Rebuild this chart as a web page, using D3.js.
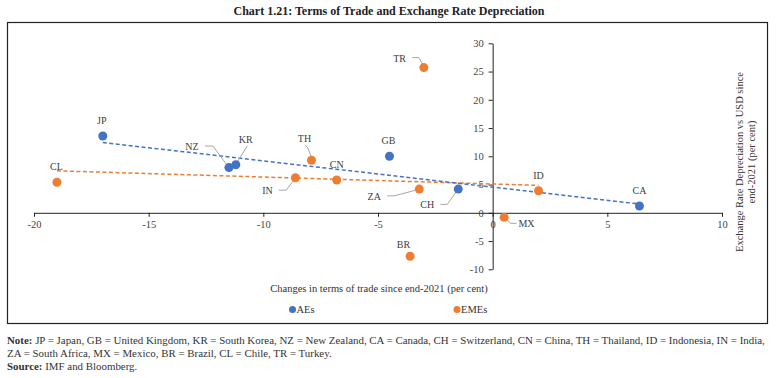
<!DOCTYPE html>
<html>
<head>
<meta charset="utf-8">
<script src="https://cdn.jsdelivr.net/npm/d3@7"></script>
<style>
  body { margin: 0; background: #fff; }
  svg text { font-family: "Liberation Serif", "DejaVu Serif", serif; fill: #333; }
</style>
</head>
<body>
<svg id="chart" width="776" height="378"></svg>
<script>
// AEs (advanced economies)
const aeCodes = ["JP", "NZ", "KR", "GB", "CH", "CA"];
const aeTot = [-17.0, -11.5, -11.2, -4.5, -1.5, 6.4];
const aeDep = [13.6, 8.0, 8.5, 10.0, 4.2, 1.2];

// EMEs (emerging market economies)
const emeCodes = ["CL", "IN", "TH", "CN", "ZA", "BR", "TR", "MX", "ID"];
const emeTot = [-19.0, -8.6, -7.9, -6.8, -3.2, -3.6, -3.0, 0.5, 2.0];
const emeDep = [5.4, 6.2, 9.3, 5.8, 4.2, -7.7, 25.7, -0.8, 3.9];

const xTicks = [-20, -15, -10, -5, 0, 5, 10];
const yTicks = [-10, -5, 0, 5, 10, 15, 20, 25, 30];

const BLUE = "#4472C4";
const ORANGE = "#ED7D31";

// label placement: offset of label centre from the point, plus leader line points (relative)
const labelLayout = {
  JP: { dx: -1, dy: -15 },
  NZ: { dx: -37, dy: -21, leader: [[-24, -21.6], [-16, -21.6], [-1.5, -2]] },
  KR: { dx: 10, dy: -25, leader: [[11.4, -18.6], [1, -2]] },
  TH: { dx: -7, dy: -22, leader: [[-6.6, -15], [-4, -13], [0, -3]] },
  GB: { dx: -1, dy: -15.5 },
  CL: { dx: -0.5, dy: -15.5 },
  CN: { dx: 0, dy: -16 },
  IN: { dx: -28, dy: 13, leader: [[-16.7, 12.4], [-9.3, 12.4], [-1, 1.7]] },
  ZA: { dx: -45, dy: 7, leader: [[-32, 6.8], [-25, 6.8], [-4.3, 1.3]] },
  CH: { dx: -31, dy: 15.3, leader: [[-17.7, 15.3], [-11, 15.3], [-1.7, 2.3]] },
  TR: { dx: -24.3, dy: -9.3, leader: [[-11.7, -10], [-5, -10], [-0.5, -2]] },
  ID: { dx: 0, dy: -15 },
  CA: { dx: 0, dy: -15.5 },
  MX: { dx: 22.4, dy: 6.6, leader: [[12.4, 6], [6.7, 6], [1.2, 1.3]] },
  BR: { dx: -6.7, dy: -12 }
};

const svg = d3.select("#chart");

// title
svg.append("text")
  .attr("x", 389).attr("y", 15)
  .attr("text-anchor", "middle")
  .style("font-size", "12px").style("font-weight", "bold").style("fill", "#222")
  .text("Chart 1.21: Terms of Trade and Exchange Rate Depreciation");

// frame
svg.append("rect")
  .attr("x", 7.5).attr("y", 22.5).attr("width", 760).attr("height", 301)
  .attr("fill", "none").attr("stroke", "#222").attr("stroke-width", 1.2);

const x = d3.scaleLinear().domain([-20, 10]).range([34, 722]);
const y = d3.scaleLinear().domain([-10, 30]).range([269.3, 43.3]);

// plain hyphen for negatives, like the original
const fmt = d => String(d);

// axes
const xAxis = svg.append("g")
  .attr("transform", `translate(0,${y(0)})`)
  .call(d3.axisBottom(x).tickValues(xTicks).tickFormat(fmt).tickSize(4).tickSizeOuter(0).tickPadding(4));
const yAxis = svg.append("g")
  .attr("transform", `translate(${x(0)},0)`)
  .call(d3.axisLeft(y).tickValues(yTicks).tickFormat(fmt).tickSize(4).tickSizeOuter(0).tickPadding(5));

[xAxis, yAxis].forEach(g => {
  g.selectAll("path, line").attr("stroke", "#222");
  g.selectAll("text").style("font-size", "10.5px").style("fill", "#444")
    .style("font-family", '"Liberation Serif", serif');
});

// trend lines (least squares over each group, drawn between min and max x)
function trend(xs, ys) {
  const mx = d3.mean(xs), my = d3.mean(ys);
  const sxy = d3.sum(xs, (v, i) => (v - mx) * (ys[i] - my));
  const sxx = d3.sum(xs, v => (v - mx) * (v - mx));
  const b = sxy / sxx, a = my - b * mx;
  const x0 = d3.min(xs), x1 = d3.max(xs);
  return [[x0, a + b * x0], [x1, a + b * x1]];
}

const line = d3.line().x(d => x(d[0])).y(d => y(d[1]));

svg.append("path")
  .datum(trend(emeTot, emeDep))
  .attr("d", line)
  .attr("fill", "none").attr("stroke", ORANGE).attr("stroke-width", 1.5)
  .attr("stroke-dasharray", "4,2.5");
svg.append("path")
  .datum(trend(aeTot, aeDep))
  .attr("d", line)
  .attr("fill", "none").attr("stroke", BLUE).attr("stroke-width", 1.5)
  .attr("stroke-dasharray", "4,2.5");

const aePts = aeCodes.map((c, i) => ({ code: c, tot: aeTot[i], dep: aeDep[i], color: BLUE }));
const emePts = emeCodes.map((c, i) => ({ code: c, tot: emeTot[i], dep: emeDep[i], color: ORANGE }));
const allPts = aePts.concat(emePts);

// leader lines
svg.selectAll(".leader")
  .data(allPts.filter(d => labelLayout[d.code].leader))
  .enter()
  .append("polyline")
  .attr("class", "leader")
  .attr("points", d => labelLayout[d.code].leader
    .map(p => [x(d.tot) + p[0], y(d.dep) + p[1]].join(",")).join(" "))
  .attr("fill", "none").attr("stroke", "#a6a6a6").attr("stroke-width", 1);

// points
svg.selectAll(".dot")
  .data(allPts)
  .enter()
  .append("circle")
  .attr("class", "dot")
  .attr("cx", d => x(d.tot))
  .attr("cy", d => y(d.dep))
  .attr("r", 4.5)
  .attr("fill", d => d.color);

// point labels
svg.selectAll(".lbl")
  .data(allPts)
  .enter()
  .append("text")
  .attr("class", "lbl")
  .attr("x", d => x(d.tot) + labelLayout[d.code].dx)
  .attr("y", d => y(d.dep) + labelLayout[d.code].dy)
  .attr("dy", "0.35em")
  .attr("text-anchor", "middle")
  .style("font-size", "10px").style("fill", "#404040")
  .text(d => d.code);

// axis titles
svg.append("text")
  .attr("x", 379).attr("y", 291.5)
  .attr("text-anchor", "middle")
  .style("font-size", "10.5px")
  .text("Changes in terms of trade since end-2021 (per cent)");

svg.append("text")
  .attr("transform", "translate(746,162) rotate(-90)")
  .attr("text-anchor", "middle")
  .style("font-size", "10.5px")
  .selectAll("tspan")
  .data(["Exchange Rate Depreciation vs USD since", "end-2021 (per cent)"])
  .enter()
  .append("tspan")
  .attr("x", 0)
  .attr("dy", (d, i) => i === 0 ? "-0.25em" : "1.15em")
  .text(d => d);

// legend
const legend = svg.selectAll(".legend")
  .data([{ name: "AEs", color: BLUE, x: 292.5 }, { name: "EMEs", color: ORANGE, x: 457 }])
  .enter()
  .append("g")
  .attr("class", "legend")
  .attr("transform", d => `translate(${d.x},309.5)`);
legend.append("circle").attr("r", 3.5).attr("fill", d => d.color);
legend.append("text")
  .attr("x", 4).attr("dy", "0.35em")
  .style("font-size", "10.5px")
  .text(d => d.name);

// notes
const notes = svg.append("g").style("font-size", "10.9px");
const n1 = notes.append("text").attr("x", 7).attr("y", 344);
n1.append("tspan").style("font-weight", "bold").text("Note: ");
n1.append("tspan").text("JP = Japan, GB = United Kingdom, KR = South Korea, NZ = New Zealand, CA = Canada, CH = Switzerland, CN = China, TH = Thailand, ID = Indonesia, IN = India,");
notes.append("text").attr("x", 7).attr("y", 357)
  .text("ZA = South Africa, MX = Mexico, BR = Brazil, CL = Chile, TR = Turkey.");
const n3 = notes.append("text").attr("x", 7).attr("y", 370);
n3.append("tspan").style("font-weight", "bold").text("Source: ");
n3.append("tspan").text("IMF and Bloomberg.");
</script>
</body>
</html>
